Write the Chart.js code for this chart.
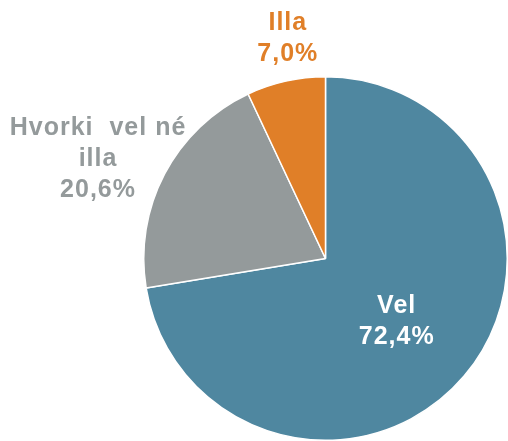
<!DOCTYPE html>
<html>
<head>
<meta charset="utf-8">
<script src="https://cdn.jsdelivr.net/npm/chart.js@4.4.1/dist/chart.umd.min.js"></script>
<style>
  html, body { margin: 0; padding: 0; background: #ffffff; overflow: hidden; }
  #wrap { width: 508px; height: 441px; position: relative; }
</style>
</head>
<body>
<div id="wrap"><canvas id="pie" width="508" height="441"></canvas></div>
<script>
// Survey answer shares, clockwise from 12 o'clock
const categories = ["Vel", "Hvorki vel né illa", "Illa"];
const shares = [72.4, 20.6, 7.0];
// Label text split into lines
const labelLines = [["Vel"], ["Hvorki  vel né", "illa"], ["Illa"]];

const sliceColors = ["#4F87A0", "#949A9B", "#E07F28"];
const labelColors = ["#FFFFFF", "#949A9B", "#E07F28"];
// Label placement along each slice's bisector: radius factor and angle nudge (deg)
const labelPlace = [
  { r: 0.524, nudge: 1.3 },
  { r: 1.365, nudge: -4.2 },
  { r: 1.23, nudge: 2.9 }
];

const fmt = v => v.toFixed(1).replace(".", ",") + "%";

const sliceLabels = {
  id: "sliceLabels",
  afterDatasetsDraw(chart) {
    const ctx = chart.ctx;
    const meta = chart.getDatasetMeta(0);
    ctx.save();
    ctx.font = "bold 25px 'Liberation Sans', Arial, sans-serif";
    ctx.textAlign = "center";
    ctx.textBaseline = "middle";
    if ("letterSpacing" in ctx) ctx.letterSpacing = "1px";
    const lineH = 31;
    meta.data.forEach((arc, i) => {
      const p = arc.getProps(["x", "y", "startAngle", "endAngle", "outerRadius"], true);
      const mid = (p.startAngle + p.endAngle) / 2 + labelPlace[i].nudge * Math.PI / 180;
      const rr = p.outerRadius * labelPlace[i].r;
      const cx = p.x + Math.cos(mid) * rr;
      const cy = p.y + Math.sin(mid) * rr;
      const lines = labelLines[i].concat([fmt(shares[i])]);
      const y0 = cy - (lines.length - 1) * lineH / 2;
      ctx.fillStyle = labelColors[i];
      lines.forEach((t, k) => ctx.fillText(t, cx, y0 + k * lineH));
    });
    ctx.restore();
  }
};

new Chart(document.getElementById("pie"), {
  type: "pie",
  data: {
    labels: categories,
    datasets: [{
      data: shares,
      backgroundColor: sliceColors,
      borderColor: "#FFFFFF",
      borderWidth: 1.5
    }]
  },
  options: {
    responsive: false,
    animation: false,
    layout: { padding: { left: 143, top: 76, right: 0, bottom: 0 } },
    plugins: {
      legend: { display: false },
      tooltip: { enabled: false }
    }
  },
  plugins: [sliceLabels]
});
</script>
</body>
</html>
